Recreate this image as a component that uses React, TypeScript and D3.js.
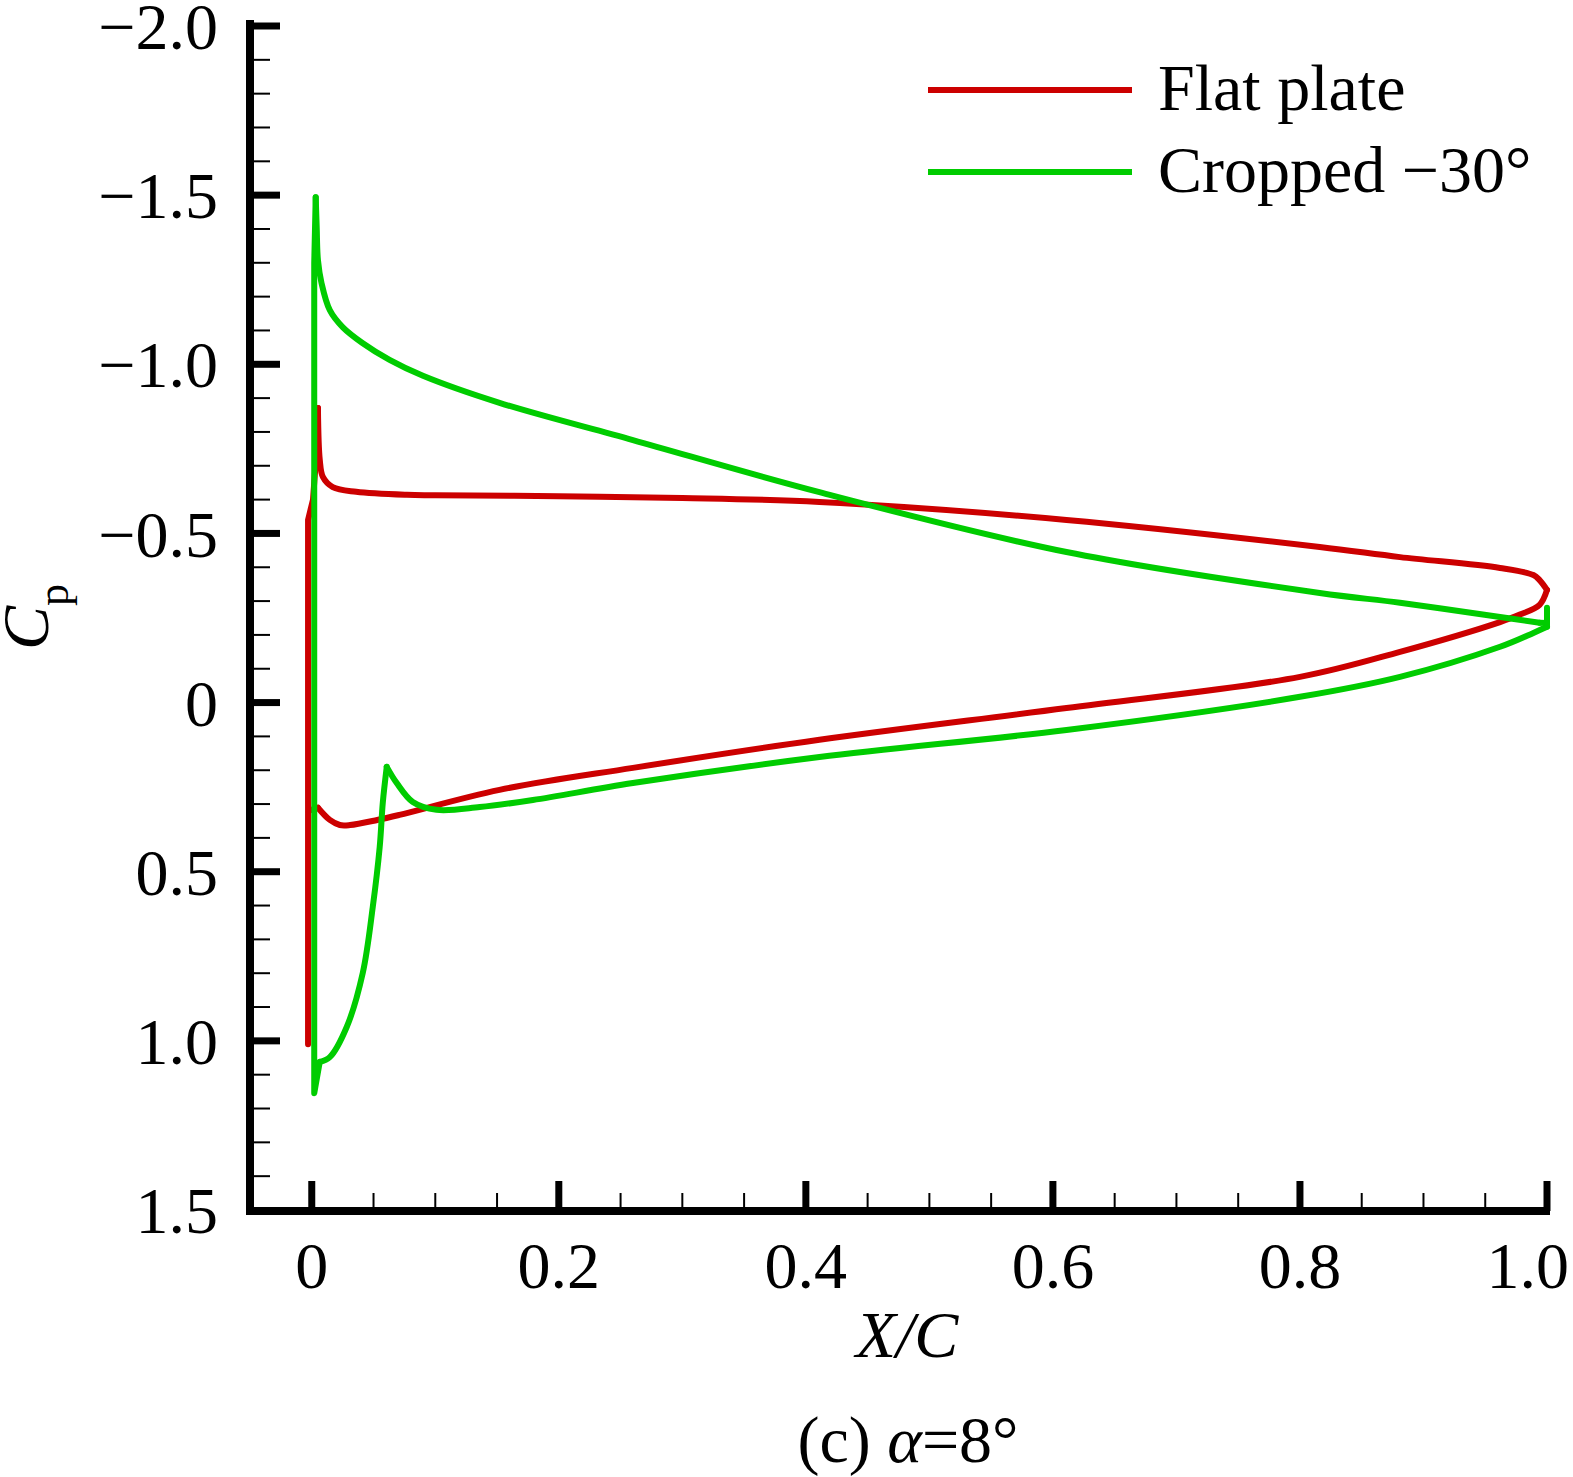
import * as d3 from "d3";

// Cp distribution, alpha = 8 deg. Points as [X/C, Cp].
const flatPlateUpper: [number, number][] = [
  [1.0, -0.333], [0.994, -0.362], [0.989, -0.377], [0.962, -0.398], [0.881, -0.43],
  [0.816, -0.46], [0.611, -0.54], [0.411, -0.593], [0.3, -0.605], [0.2, -0.61],
  [0.1, -0.613], [0.077, -0.614], [0.036, -0.623], [0.017, -0.637], [0.009, -0.667],
  [0.0065, -0.717], [0.005, -0.871],
];
const flatPlateNose: [number, number][] = [
  [0.005, -0.871], [0.003, -0.7], [0.001, -0.6], [-0.003, -0.54], [-0.003, 1.01],
  [-0.003, 0.32], [0.005, 0.311],
];
const flatPlateLower: [number, number][] = [
  [0.005, 0.311], [0.0146, 0.347], [0.0227, 0.362], [0.031, 0.362], [0.053, 0.347],
  [0.071, 0.332], [0.152, 0.258], [0.26, 0.193], [0.411, 0.11], [0.611, 0.016],
  [0.8, -0.076], [0.881, -0.15], [0.962, -0.238], [0.978, -0.26], [0.994, -0.289],
  [1.0, -0.333],
];

const croppedNose: [number, number][] = [
  [0.0032, -1.494], [0.002, -1.3], [0.002, 1.155], [0.0065, 1.062],
];
const croppedLowerFront: [number, number][] = [
  [0.0065, 1.062], [0.0146, 1.048], [0.0283, 0.959], [0.0413, 0.799], [0.0494, 0.604],
  [0.055, 0.427], [0.0575, 0.296], [0.0607, 0.19],
];
const croppedLowerRear: [number, number][] = [
  [0.0607, 0.19], [0.0688, 0.238], [0.0818, 0.294], [0.101, 0.317], [0.136, 0.309],
  [0.179, 0.288], [0.26, 0.238], [0.411, 0.161], [0.611, 0.081], [0.8, -0.017],
  [0.881, -0.076], [0.962, -0.165], [0.989, -0.206], [1.0, -0.224],
];
const croppedTrailing: [number, number][] = [
  [1.0, -0.224], [1.0, -0.28], [1.0, -0.235], [0.994, -0.236],
];
const croppedUpper: [number, number][] = [
  [0.994, -0.236], [0.962, -0.253], [0.881, -0.295], [0.816, -0.324], [0.611, -0.445],
  [0.411, -0.622], [0.26, -0.776], [0.152, -0.886], [0.09, -0.966],
  [0.063, -1.013], [0.041, -1.063], [0.025, -1.11], [0.0146, -1.16], [0.0079, -1.24],
  [0.005, -1.308], [0.004, -1.405], [0.0032, -1.494],
];

const xTicks = [0, 0.2, 0.4, 0.6, 0.8, 1.0];
const xTickLabels = ["0", "0.2", "0.4", "0.6", "0.8", "1.0"];
const yTicks = [-2.0, -1.5, -1.0, -0.5, 0, 0.5, 1.0, 1.5];
const yTickLabels = ["\u22122.0", "\u22121.5", "\u22121.0", "\u22120.5", "0", "0.5", "1.0", "1.5"];

const seriesNames = ["Flat plate", "Cropped \u221230\u00b0"];
const seriesColors = ["#cc0000", "#00cc00"];

const W = 1573;
const H = 1477;
const FONT = "'Liberation Serif', 'Times New Roman', serif";

export default function App() {
  const x = d3.scaleLinear().domain([-0.05, 1.0]).range([250, 1547]);
  const y = d3.scaleLinear().domain([-2.0, 1.5]).range([26, 1210]);

  const smooth = d3
    .line<[number, number]>()
    .x((d) => x(d[0]))
    .y((d) => y(d[1]))
    .curve(d3.curveCatmullRom.alpha(0.5));
  const straight = d3
    .line<[number, number]>()
    .x((d) => x(d[0]))
    .y((d) => y(d[1]));

  // each series is drawn as smooth surface pieces plus sharp straight joins
  const flatPieces = [
    smooth(flatPlateUpper),
    straight(flatPlateNose),
    smooth(flatPlateLower),
  ];
  const croppedPieces = [
    straight(croppedNose),
    smooth(croppedLowerFront),
    smooth(croppedLowerRear),
    straight(croppedTrailing),
    smooth(croppedUpper),
  ];

  // minor ticks
  const xMinor = d3
    .range(1, 20)
    .map((i) => i * 0.05)
    .filter((v) => Math.abs(v / 0.2 - Math.round(v / 0.2)) > 1e-6);
  const yMinor = d3
    .range(-19, 15)
    .map((i) => i * 0.1)
    .filter((v) => Math.abs(v / 0.5 - Math.round(v / 0.5)) > 1e-6);

  const axisX = 250;
  const axisY = 1211;

  return (
    <svg
      width={W}
      height={H}
      style={{ position: "absolute", left: 0, top: 0, background: "#fff", display: "block" }}
      fontFamily={FONT}
    >
      <rect width={W} height={H} fill="#fff" />

      {/* curves */}
      {flatPieces.map((d, i) => (
        <path key={`f${i}`} d={d ?? ""} fill="none" stroke={seriesColors[0]} strokeWidth={6}
          strokeLinejoin="round" strokeLinecap="round" />
      ))}
      {croppedPieces.map((d, i) => (
        <path key={`c${i}`} d={d ?? ""} fill="none" stroke={seriesColors[1]} strokeWidth={6}
          strokeLinejoin="round" strokeLinecap="round" />
      ))}

      {/* axes */}
      <line x1={axisX} x2={axisX} y1={20} y2={axisY + 4} stroke="#000" strokeWidth={8} />
      <line x1={axisX - 4} x2={x(1.0) + 3} y1={axisY} y2={axisY} stroke="#000" strokeWidth={8} />

      {/* y ticks */}
      {yTicks.map((t, i) => (
        <g key={`yt${i}`}>
          {t !== 1.5 && (
            <line x1={axisX} x2={axisX + 30} y1={y(t)} y2={y(t)} stroke="#000" strokeWidth={7} />
          )}
          <text x={218} y={y(t)} dy="0.35em" textAnchor="end" fontSize={66}>
            {yTickLabels[i]}
          </text>
        </g>
      ))}
      {yMinor.map((t, i) => (
        <line key={`ym${i}`} x1={axisX} x2={axisX + 20} y1={y(t)} y2={y(t)} stroke="#000" strokeWidth={2} />
      ))}

      {/* x ticks */}
      {xTicks.map((t, i) => {
        const last = i === xTicks.length - 1;
        return (
          <g key={`xt${i}`}>
            <line x1={x(t)} x2={x(t)} y1={axisY} y2={axisY - 30} stroke="#000" strokeWidth={7} />
            <text
              x={last ? 1569 : x(t)}
              y={1288}
              textAnchor={last ? "end" : "middle"}
              fontSize={66}
            >
              {xTickLabels[i]}
            </text>
          </g>
        );
      })}
      {xMinor.map((t, i) => (
        <line key={`xm${i}`} x1={x(t)} x2={x(t)} y1={axisY} y2={axisY - 18} stroke="#000" strokeWidth={2} />
      ))}

      {/* axis titles */}
      <text x={907} y={1357} textAnchor="middle" fontSize={66} fontStyle="italic">
        X/C
      </text>
      <text transform="translate(48, 650) rotate(-90)" fontSize={66}>
        <tspan fontStyle="italic">C</tspan>
        <tspan fontSize={44} dy={20}>p</tspan>
      </text>

      {/* caption */}
      <text x={908} y={1462} textAnchor="middle" fontSize={66}>
        (c) <tspan fontStyle="italic">α</tspan>=8°
      </text>

      {/* legend */}
      {seriesNames.map((name, i) => (
        <g key={name}>
          <line x1={928} x2={1132} y1={90 + i * 82} y2={90 + i * 82} stroke={seriesColors[i]} strokeWidth={6} />
          <text x={1158} y={110 + i * 82} fontSize={66}>
            {name}
          </text>
        </g>
      ))}
    </svg>
  );
}
